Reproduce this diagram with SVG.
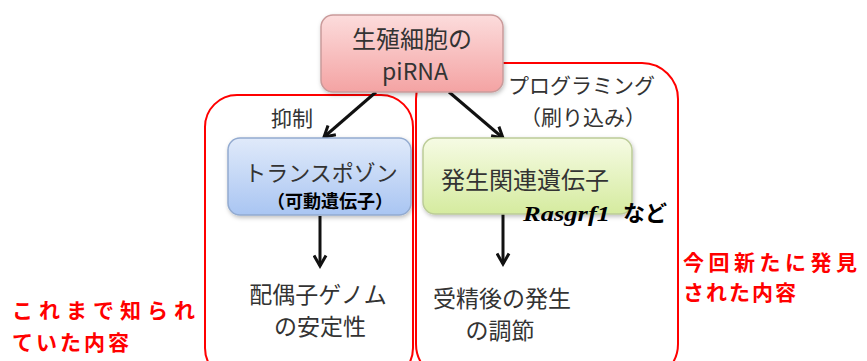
<svg xmlns="http://www.w3.org/2000/svg" width="867" height="361" viewBox="0 0 867 361">
<style>
.jp{font-family:"Noto Sans CJK JP","Noto Sans",sans-serif;}
.box{font-size:24px;fill:#333;text-anchor:middle;}
.lbl{font-size:21px;fill:#333;}
.red{font-size:21px;fill:#ff0000;font-weight:bold;}
.conn{stroke:#111;stroke-width:3;fill:none;marker-end:url(#ah);}
.frame{fill:none;stroke:#ff0000;stroke-width:2;}
</style>
<defs>
<marker id="ah" viewBox="0 0 10 10" refX="8" refY="5" markerWidth="5" markerHeight="5" orient="auto" markerUnits="strokeWidth">
<path d="M1,1 L8,5 L1,9" fill="none" stroke="#111" stroke-width="2"/>
</marker>
<linearGradient id="gp" x1="0" y1="0" x2="0" y2="1"><stop offset="0" stop-color="#fcdcdc"/><stop offset="1" stop-color="#f4a3a3"/></linearGradient>
<linearGradient id="gb" x1="0" y1="0" x2="0" y2="1"><stop offset="0" stop-color="#e0eafa"/><stop offset="1" stop-color="#a9c5f2"/></linearGradient>
<linearGradient id="gg" x1="0" y1="0" x2="0" y2="1"><stop offset="0" stop-color="#f6fbe4"/><stop offset="1" stop-color="#d5eb9f"/></linearGradient>
<filter id="sh" x="-10%" y="-10%" width="130%" height="140%"><feDropShadow dx="1" dy="2" stdDeviation="2" flood-color="#000" flood-opacity="0.25"/></filter>
</defs>
<rect width="867" height="361" fill="#ffffff"/>
<g id="frames">
<rect class="frame" x="205" y="95" width="208" height="285" rx="32"/>
<rect class="frame" x="416" y="63" width="262" height="317" rx="36"/>
</g>
<g id="connectors">
<line class="conn" x1="376" y1="92" x2="324" y2="137"/>
<line class="conn" x1="449" y1="92" x2="503" y2="138"/>
<line class="conn" x1="320" y1="216" x2="320" y2="266"/>
<line class="conn" x1="503" y1="214" x2="503" y2="264"/>
</g>
<g id="pirna">
<rect x="321" y="15" width="182" height="77" rx="12" fill="url(#gp)" stroke="#c99a9a" stroke-width="1.5" filter="url(#sh)"/>
<text class="jp box" x="412" y="48">生殖細胞の</text>
<text class="jp box" x="415" y="80" style="font-size:23px">piRNA</text>
</g>
<g id="transposon">
<rect x="228" y="138" width="183" height="77" rx="12" fill="url(#gb)" stroke="#93abd0" stroke-width="1.5" filter="url(#sh)"/>
<text class="jp box" x="321" y="181" style="font-size:22px">トランスポゾン</text>
<text class="jp" x="267" y="208" textLength="126" lengthAdjust="spacingAndGlyphs" style="font-size:18px;font-weight:bold;fill:#000">（可動遺伝子）</text>
</g>
<g id="devgenes">
<rect x="423" y="138" width="209" height="76" rx="12" fill="url(#gg)" stroke="#bccc98" stroke-width="1.5" filter="url(#sh)"/>
<text class="jp box" x="525" y="189">発生関連遺伝子</text>
</g>
<g id="rasgrf1">
<text x="523" y="221" textLength="87" lengthAdjust="spacingAndGlyphs" style="font-family:'Liberation Serif',serif;font-style:italic;font-weight:bold;font-size:22px;fill:#000">Rasgrf1</text>
<text class="jp" x="623" y="221" style="font-size:22px;font-weight:bold;fill:#000">など</text>
</g>
<g id="labels">
<text class="jp lbl" x="271" y="126">抑制</text>
<text class="jp lbl" x="508" y="93">プログラミング</text>
<text class="jp lbl" x="583" y="125" text-anchor="middle">（刷り込み）</text>
</g>
<g id="genome">
<text class="jp box" x="318" y="303" style="font-size:23px">配偶子ゲノム</text>
<text class="jp box" x="320" y="335" style="font-size:23px">の安定性</text>
</g>
<g id="development">
<text class="jp box" x="502" y="307" style="font-size:23px">受精後の発生</text>
<text class="jp box" x="500" y="339" style="font-size:23px">の調節</text>
</g>
<g id="known">
<text class="jp red" x="12" y="318" style="letter-spacing:6px">これまで知られ</text>
<text class="jp red" x="12" y="350" style="letter-spacing:3px">ていた内容</text>
</g>
<g id="new">
<text class="jp red" x="683" y="270" style="letter-spacing:4.5px">今回新たに発見</text>
<text class="jp red" x="683" y="300" style="letter-spacing:2px">された内容</text>
</g>
</svg>
